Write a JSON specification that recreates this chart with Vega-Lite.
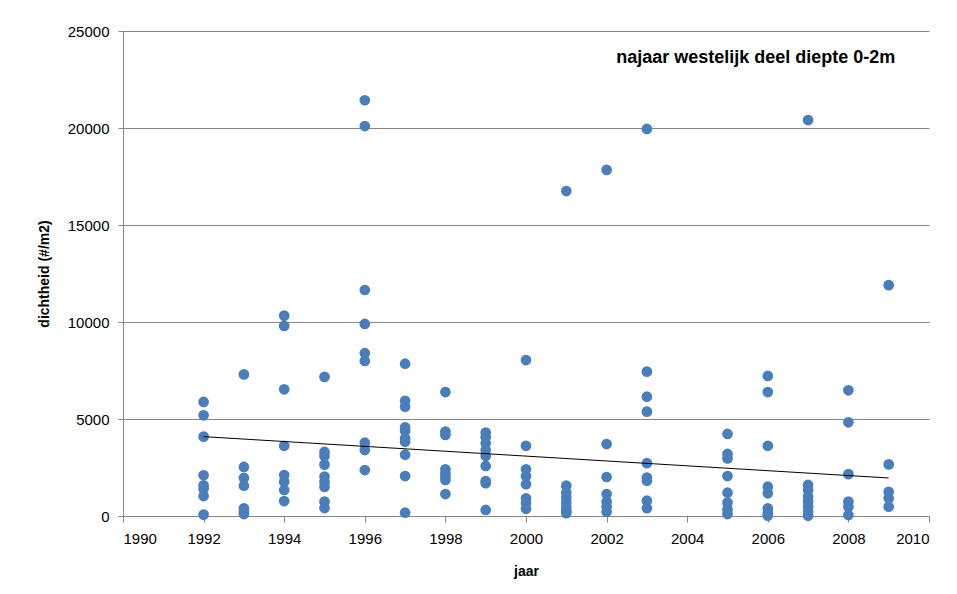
{
  "$schema": "https://vega.github.io/schema/vega-lite/v6.json",
  "width": 806,
  "height": 485,
  "autosize": "none",
  "padding": {"left": 123, "top": 31, "right": 28, "bottom": 78},
  "background": "white",
  "config": {
    "font": "Liberation Sans",
    "view": {"stroke": null},
    "axis": {"labelFont": "Liberation Sans", "titleFont": "Liberation Sans"}
  },
  "datasets": {
    "pts": [
      {"jaar": 1992, "dichtheid": 5880}, {"jaar": 1992, "dichtheid": 5190}, {"jaar": 1992, "dichtheid": 4090}, {"jaar": 1992, "dichtheid": 2100}, {"jaar": 1992, "dichtheid": 1580}, {"jaar": 1992, "dichtheid": 1400}, {"jaar": 1992, "dichtheid": 1030}, {"jaar": 1992, "dichtheid": 70},
      {"jaar": 1993, "dichtheid": 7300}, {"jaar": 1993, "dichtheid": 2530}, {"jaar": 1993, "dichtheid": 1960}, {"jaar": 1993, "dichtheid": 1560}, {"jaar": 1993, "dichtheid": 400}, {"jaar": 1993, "dichtheid": 230}, {"jaar": 1993, "dichtheid": 100},
      {"jaar": 1994, "dichtheid": 10330}, {"jaar": 1994, "dichtheid": 9800}, {"jaar": 1994, "dichtheid": 6530}, {"jaar": 1994, "dichtheid": 3620}, {"jaar": 1994, "dichtheid": 2110}, {"jaar": 1994, "dichtheid": 1770}, {"jaar": 1994, "dichtheid": 1340}, {"jaar": 1994, "dichtheid": 770},
      {"jaar": 1995, "dichtheid": 7170}, {"jaar": 1995, "dichtheid": 3300}, {"jaar": 1995, "dichtheid": 3080}, {"jaar": 1995, "dichtheid": 2650}, {"jaar": 1995, "dichtheid": 2030}, {"jaar": 1995, "dichtheid": 1750}, {"jaar": 1995, "dichtheid": 1500}, {"jaar": 1995, "dichtheid": 740}, {"jaar": 1995, "dichtheid": 410},
      {"jaar": 1996, "dichtheid": 21430}, {"jaar": 1996, "dichtheid": 20100}, {"jaar": 1996, "dichtheid": 11650}, {"jaar": 1996, "dichtheid": 9900}, {"jaar": 1996, "dichtheid": 8390}, {"jaar": 1996, "dichtheid": 7990}, {"jaar": 1996, "dichtheid": 3780}, {"jaar": 1996, "dichtheid": 3400}, {"jaar": 1996, "dichtheid": 2370},
      {"jaar": 1997, "dichtheid": 7850}, {"jaar": 1997, "dichtheid": 5940}, {"jaar": 1997, "dichtheid": 5640}, {"jaar": 1997, "dichtheid": 4570}, {"jaar": 1997, "dichtheid": 4400}, {"jaar": 1997, "dichtheid": 4000}, {"jaar": 1997, "dichtheid": 3830}, {"jaar": 1997, "dichtheid": 3160}, {"jaar": 1997, "dichtheid": 2060}, {"jaar": 1997, "dichtheid": 170},
      {"jaar": 1998, "dichtheid": 6390}, {"jaar": 1998, "dichtheid": 4350}, {"jaar": 1998, "dichtheid": 4180}, {"jaar": 1998, "dichtheid": 2410}, {"jaar": 1998, "dichtheid": 2200}, {"jaar": 1998, "dichtheid": 2030}, {"jaar": 1998, "dichtheid": 1860}, {"jaar": 1998, "dichtheid": 1130},
      {"jaar": 1999, "dichtheid": 4300}, {"jaar": 1999, "dichtheid": 4060}, {"jaar": 1999, "dichtheid": 3750}, {"jaar": 1999, "dichtheid": 3400}, {"jaar": 1999, "dichtheid": 3090}, {"jaar": 1999, "dichtheid": 2580}, {"jaar": 1999, "dichtheid": 1800}, {"jaar": 1999, "dichtheid": 1690}, {"jaar": 1999, "dichtheid": 310},
      {"jaar": 2000, "dichtheid": 8040}, {"jaar": 2000, "dichtheid": 3620}, {"jaar": 2000, "dichtheid": 2410}, {"jaar": 2000, "dichtheid": 2060}, {"jaar": 2000, "dichtheid": 1640}, {"jaar": 2000, "dichtheid": 910}, {"jaar": 2000, "dichtheid": 670}, {"jaar": 2000, "dichtheid": 370},
      {"jaar": 2001, "dichtheid": 16750}, {"jaar": 2001, "dichtheid": 1560}, {"jaar": 2001, "dichtheid": 1200}, {"jaar": 2001, "dichtheid": 950}, {"jaar": 2001, "dichtheid": 700}, {"jaar": 2001, "dichtheid": 450}, {"jaar": 2001, "dichtheid": 250}, {"jaar": 2001, "dichtheid": 150},
      {"jaar": 2002, "dichtheid": 17840}, {"jaar": 2002, "dichtheid": 3710}, {"jaar": 2002, "dichtheid": 2010}, {"jaar": 2002, "dichtheid": 1130}, {"jaar": 2002, "dichtheid": 740}, {"jaar": 2002, "dichtheid": 480}, {"jaar": 2002, "dichtheid": 220},
      {"jaar": 2003, "dichtheid": 19950}, {"jaar": 2003, "dichtheid": 7440}, {"jaar": 2003, "dichtheid": 6150}, {"jaar": 2003, "dichtheid": 5380}, {"jaar": 2003, "dichtheid": 2720}, {"jaar": 2003, "dichtheid": 1980}, {"jaar": 2003, "dichtheid": 1820}, {"jaar": 2003, "dichtheid": 790}, {"jaar": 2003, "dichtheid": 400},
      {"jaar": 2005, "dichtheid": 4230}, {"jaar": 2005, "dichtheid": 3200}, {"jaar": 2005, "dichtheid": 2970}, {"jaar": 2005, "dichtheid": 2060}, {"jaar": 2005, "dichtheid": 1200}, {"jaar": 2005, "dichtheid": 690}, {"jaar": 2005, "dichtheid": 340}, {"jaar": 2005, "dichtheid": 100},
      {"jaar": 2006, "dichtheid": 7220}, {"jaar": 2006, "dichtheid": 6390}, {"jaar": 2006, "dichtheid": 3620}, {"jaar": 2006, "dichtheid": 1510}, {"jaar": 2006, "dichtheid": 1170}, {"jaar": 2006, "dichtheid": 400}, {"jaar": 2006, "dichtheid": 170}, {"jaar": 2006, "dichtheid": 20},
      {"jaar": 2007, "dichtheid": 20410}, {"jaar": 2007, "dichtheid": 1600}, {"jaar": 2007, "dichtheid": 1340}, {"jaar": 2007, "dichtheid": 1000}, {"jaar": 2007, "dichtheid": 740}, {"jaar": 2007, "dichtheid": 480}, {"jaar": 2007, "dichtheid": 220}, {"jaar": 2007, "dichtheid": 10},
      {"jaar": 2008, "dichtheid": 6480}, {"jaar": 2008, "dichtheid": 4830}, {"jaar": 2008, "dichtheid": 2160}, {"jaar": 2008, "dichtheid": 740}, {"jaar": 2008, "dichtheid": 480}, {"jaar": 2008, "dichtheid": 50},
      {"jaar": 2009, "dichtheid": 11900}, {"jaar": 2009, "dichtheid": 2660}, {"jaar": 2009, "dichtheid": 1250}, {"jaar": 2009, "dichtheid": 910}, {"jaar": 2009, "dichtheid": 480}
    ],
    "trend": [
      {"jaar": 1992, "dichtheid": 4090},
      {"jaar": 2009, "dichtheid": 1960}
    ],
    "label": [
      {"jaar": 2005.7, "dichtheid": 23600, "tekst": "najaar westelijk deel diepte 0-2m"}
    ]
  },
  "layer": [
    {
      "data": {"name": "pts"},
      "mark": {"type": "point", "filled": true, "opacity": 1, "size": 115, "color": "#4A7EBB"},
      "encoding": {
        "x": {
          "field": "jaar", "type": "quantitative",
          "scale": {"domain": [1990, 2010], "nice": false, "zero": false},
          "axis": {
            "title": "jaar", "titleFontSize": 14, "titleFontWeight": "bold", "titleColor": "#000000", "titlePadding": 18,
            "values": [1990, 1992, 1994, 1996, 1998, 2000, 2002, 2004, 2006, 2008, 2010],
            "format": "d", "labelFontSize": 15, "labelColor": "#000000", "labelPadding": 9,
            "grid": false, "domainColor": "#868686", "tickColor": "#868686", "tickSize": 6
          }
        },
        "y": {
          "field": "dichtheid", "type": "quantitative",
          "scale": {"domain": [0, 25000], "nice": false},
          "axis": {
            "title": "dichtheid (#/m2)", "titleFontSize": 14, "titleFontWeight": "bold", "titleColor": "#000000", "titlePadding": 16,
            "values": [0, 5000, 10000, 15000, 20000, 25000],
            "format": "d", "labelFontSize": 15, "labelColor": "#000000", "labelPadding": 9,
            "grid": true, "gridColor": "#868686", "gridWidth": 1,
            "domain": true, "domainColor": "#868686", "tickColor": "#868686", "tickSize": 5
          }
        }
      }
    },
    {
      "data": {"name": "trend"},
      "mark": {"type": "line", "color": "#000000", "strokeWidth": 1},
      "encoding": {
        "x": {"field": "jaar", "type": "quantitative"},
        "y": {"field": "dichtheid", "type": "quantitative"}
      }
    },
    {
      "data": {"name": "label"},
      "mark": {"type": "text", "fontSize": 18, "fontWeight": "bold", "align": "center", "baseline": "middle", "color": "#000000"},
      "encoding": {
        "x": {"field": "jaar", "type": "quantitative"},
        "y": {"field": "dichtheid", "type": "quantitative"},
        "text": {"field": "tekst"}
      }
    }
  ]
}
